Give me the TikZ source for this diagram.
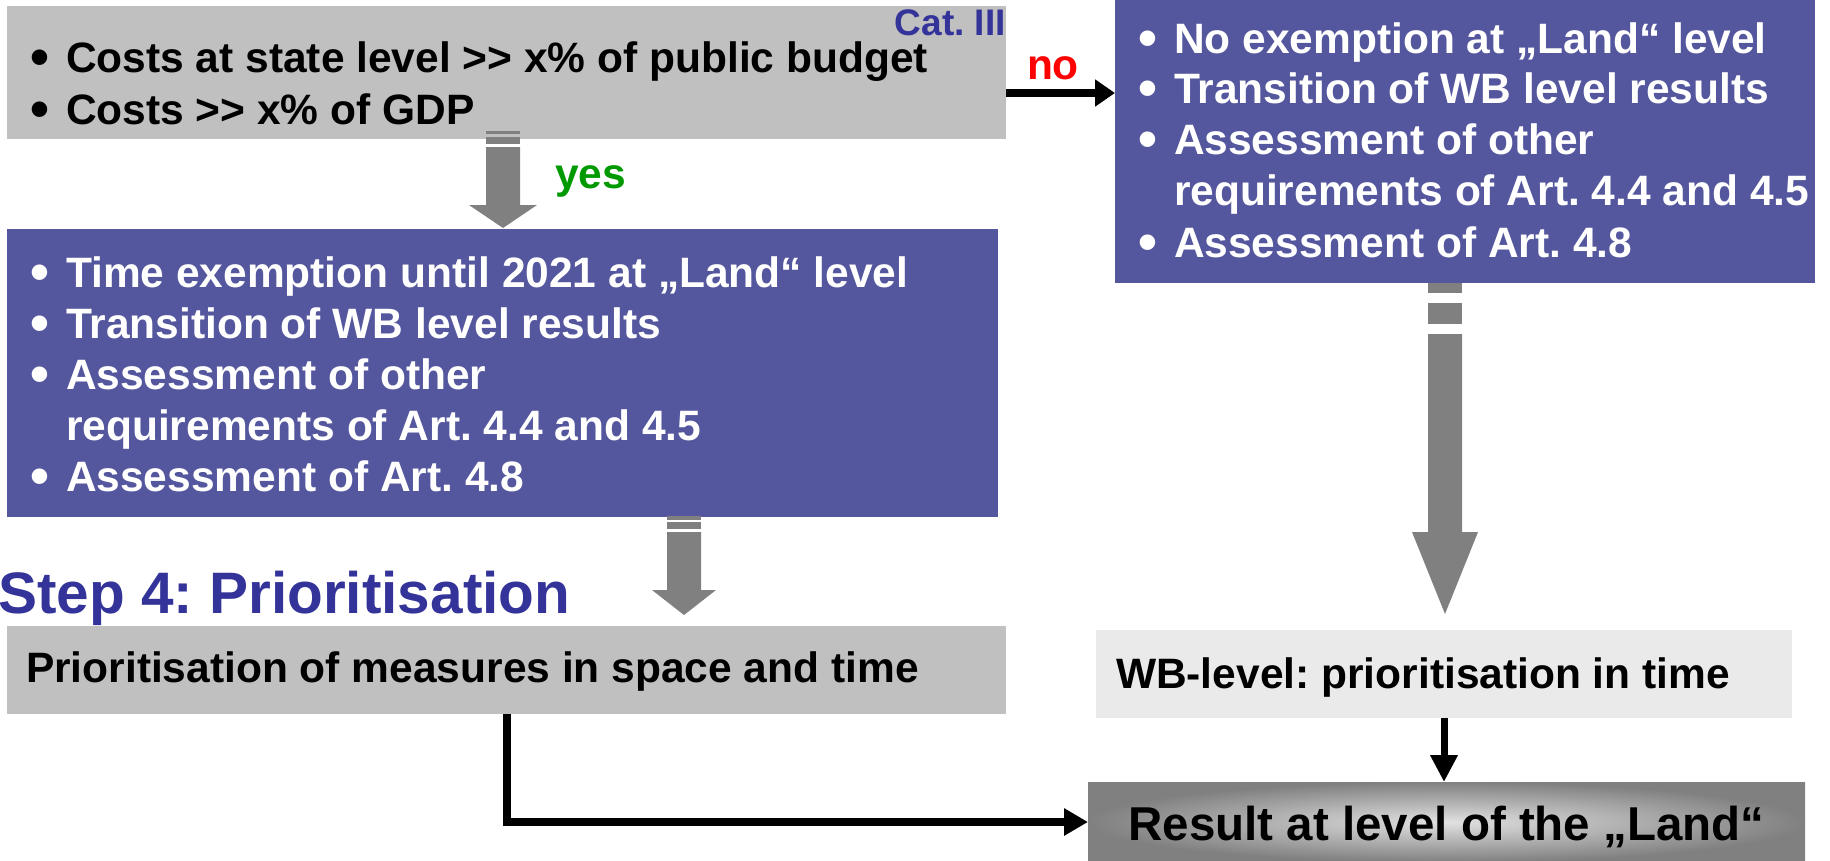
\documentclass[tikz,border=0pt]{standalone}
\usepackage{fontspec}
\setmainfont{Liberation Sans}
\usetikzlibrary{arrows.meta}
\definecolor{boxblue}{RGB}{84,86,158}
\definecolor{boxgray}{RGB}{192,192,192}
\definecolor{lightbox}{RGB}{234,234,234}
\definecolor{arrgray}{RGB}{128,128,128}
\definecolor{titleblue}{RGB}{51,51,153}
\definecolor{yesgreen}{RGB}{0,153,0}
\definecolor{resdark}{RGB}{128,128,128}
\definecolor{reslight}{RGB}{225,225,225}
\newcommand\bul{\makebox[42.5pt][l]{\hspace*{7pt}\smash{\raisebox{-3.5pt}{\fontsize{54}{54}\selectfont •}}}}
\newcommand\nobul{\hspace*{42.5pt}}
\frenchspacing
\begin{document}
\begin{tikzpicture}[x=1pt,y=-1pt,
  box/.style={inner sep=0pt,outer sep=0pt,draw=none,anchor=north west},
  txt/.style={inner sep=0pt,outer sep=0pt,anchor=base west,font=\fontsize{42.5}{51}\selectfont\bfseries\frenchspacing},
  blk/.style={line width=8pt,-{Triangle[length=24pt,width=26pt]}},
  garrow/.style={fill=arrgray}]
\useasboundingbox (0,0) rectangle (1830,860);
% boxes
\node[box,fill=boxgray,minimum width=999pt,minimum height=133pt] (top) at (7,6) {};
\node[box,fill=boxblue,minimum width=700pt,minimum height=283pt] (rbox) at (1115,0) {};
\node[box,fill=boxblue,minimum width=991pt,minimum height=288pt] (lbox) at (7,229) {};
\node[box,fill=boxgray,minimum width=999pt,minimum height=88pt] (prio) at (7,626) {};
\node[box,fill=lightbox,minimum width=696pt,minimum height=88pt] (wb) at (1096,630) {};
\node[box,minimum width=717pt,minimum height=80pt,shading=radial,inner color=reslight,outer color=resdark] (res) at (1088,782) {};
% top box text
\node[txt] (t1) at (23.5,72) {\bul Costs at state level {>}{>} x\% of public budget};
\node[txt] (t2) at (23.5,124) {\bul Costs {>}{>} x\% of GDP};
\node[inner sep=0pt,anchor=base east,font=\fontsize{37}{37}\selectfont\bfseries,text=titleblue] (cat) at (1006,35) {Cat. III};
% right box text
\node[txt,text=white] (r1) at (1131.5,53) {\bul No exemption at „Land“ level};
\node[txt,text=white] (r2) at (1131.5,103) {\bul Transition of WB level results};
\node[txt,text=white] (r3) at (1131.5,154) {\bul Assessment of other};
\node[txt,text=white] (r4) at (1131.5,205) {\nobul requirements of Art. 4.4 and 4.5};
\node[txt,text=white] (r5) at (1131.5,257) {\bul Assessment of Art. 4.8};
% left box text
\node[txt,text=white] (l1) at (23.5,287) {\bul Time exemption until 2021 at „Land“ level};
\node[txt,text=white] (l2) at (23.5,338) {\bul Transition of WB level results};
\node[txt,text=white] (l3) at (23.5,389) {\bul Assessment of other};
\node[txt,text=white] (l4) at (23.5,440) {\nobul requirements of Art. 4.4 and 4.5};
\node[txt,text=white] (l5) at (23.5,491) {\bul Assessment of Art. 4.8};
% labels
\node[txt,text=red] (no) at (1027,79) {no};
\node[txt,text=yesgreen] (yes) at (555,188) {yes};
\node[inner sep=0pt,anchor=base west,font=\fontsize{58.5}{58.5}\selectfont\bfseries\frenchspacing,text=titleblue] (step4) at (-2,613) {Step 4: Prioritisation};
\node[txt] (ptxt) at (26,682) {Prioritisation of measures in space and time};
\node[txt] (wtxt) at (1116,688) {WB-level: prioritisation in time};
\node[inner sep=0pt,anchor=base,font=\fontsize{47.5}{47.5}\selectfont\bfseries] (rtxt) at (1446.5,840) {Result at level of the „Land“};
% gray striped block arrows
\fill[garrow] (486,131) rectangle (520,134);
\fill[garrow] (486,137) rectangle (520,144);
\fill[garrow] (486,147) -- (520,147) -- (520,205) -- (537,205) -- (503,228) -- (469,205) -- (486,205) -- cycle;
\fill[garrow] (667,516) rectangle (701,520);
\fill[garrow] (667,522) rectangle (701,529);
\fill[garrow] (667,532) -- (701,532) -- (701,590) -- (716,590) -- (684,615) -- (652,590) -- (667,590) -- cycle;
\fill[garrow] (1428,283) rectangle (1462,293);
\fill[garrow] (1428,303) rectangle (1462,324);
\fill[garrow] (1428,334) -- (1462,334) -- (1462,532) -- (1478,532) -- (1445,614) -- (1412,532) -- (1428,532) -- cycle;
% connectors
\coordinate (noy) at (0,93);
\draw[blk,-{Triangle[length=20pt,width=26pt]}] (top.east |- noy) -- (rbox.west |- noy);
\draw[blk] (prio.south) |- (res.west);
\draw[line width=7pt,-{Triangle[length=27pt,width=26pt]}] (wb.south) -- (wb.south |- res.north);
\end{tikzpicture}
\end{document}
